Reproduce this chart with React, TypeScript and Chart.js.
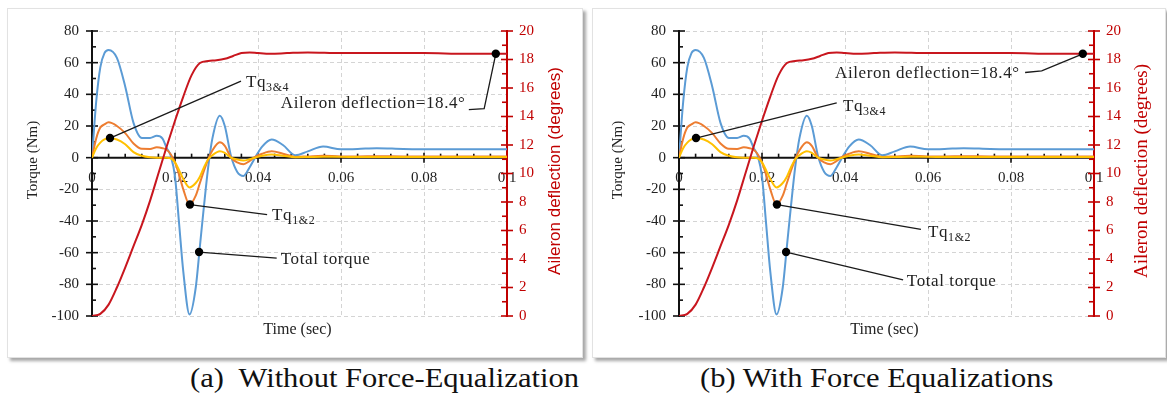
import React, { useEffect, useRef } from "react";
import { Chart, registerables } from "chart.js";

Chart.register(...registerables);

// ---------- data ----------
const TIME_S = [0, 0.001, 0.002, 0.003, 0.004, 0.006, 0.008, 0.010, 0.012, 0.014, 0.0156, 0.017, 0.018, 0.019, 0.020, 0.021, 0.022, 0.0235, 0.025, 0.026, 0.027, 0.028, 0.029, 0.0308, 0.032, 0.0335, 0.035, 0.0365, 0.038, 0.0393, 0.041, 0.0433, 0.046, 0.049, 0.052, 0.0557, 0.06, 0.064, 0.0686, 0.075, 0.085, 0.1];
const TOTAL_TORQUE = [0, 35, 57, 66, 68, 63, 45, 22, 12.5, 12.5, 13.8, 12, 6, 1, -12, -42, -72, -99, -82, -56, -30, -6, 12, 26.5, 20, 1, -9, -11.5, -6, 0, 7, 11.5, 8, 1.5, 4, 7, 5.3, 5.5, 6, 5.5, 5.3, 5.3];
const TQ_1_2 = [0, 12, 19, 21, 22.3, 20, 15.5, 9, 5.6, 5.5, 6.6, 6, 5, 2, -3, -11, -20, -29.6, -24, -16, -8, -1, 4.5, 9.7, 7.5, 0, -3, -4.1, -2, 0.5, 2.5, 4, 2.5, 0.5, 0.8, 1.2, 0.8, 0.8, 0.9, 0.8, 0.8, 0.8];
const TQ_3_4 = [0, 6, 9.5, 11.5, 12.3, 11.5, 8.5, 3.5, 1.2, 0.2, 0, 0, 0, -0.5, -3, -8, -13.5, -18.8, -16, -12, -6, -1, 1.5, 4, 3, 0, -1.2, -1.8, -1, 0, 1.2, 2, 1.2, 0.3, 0.4, 0.6, 0.5, 0.5, 0.5, 0.5, 0.5, 0.5];

const DEFL_TIME_S = [0, 0.002, 0.004, 0.006, 0.008, 0.010, 0.012, 0.014, 0.016, 0.018, 0.020, 0.022, 0.024, 0.026, 0.028, 0.030, 0.032, 0.034, 0.036, 0.038, 0.040, 0.043, 0.047, 0.052, 0.06, 0.07, 0.08, 0.09, 0.1];
const AILERON_DEFL = [0, 0.15, 0.8, 2.0, 3.4, 4.9, 6.4, 8.1, 10.0, 11.9, 13.7, 15.4, 16.9, 17.75, 17.9, 17.95, 18.05, 18.25, 18.45, 18.5, 18.45, 18.4, 18.45, 18.5, 18.45, 18.45, 18.45, 18.4, 18.4];

const TIME_TICKS = [0, 0.02, 0.04, 0.06, 0.08, 0.1];
const TORQUE_TICKS = [-100, -80, -60, -40, -20, 0, 20, 40, 60, 80];
const DEFL_TICKS = [0, 2, 4, 6, 8, 10, 12, 14, 16, 18, 20];

const CAPTIONS = ["(a)\u00a0 Without Force-Equalization", "(b) With Force Equalizations"];

// ---------- styles ----------
const SERIF = "'Liberation Serif', 'Times New Roman', serif";
const SANS = "'Liberation Sans', Arial, sans-serif";
const TEXT = "#222222";
const GRID = "#d4d4d4";
const RED_AXIS = "#c00000";
const RED_LINE = "#c8161e";
const BLUE = "#5b9bd5";
const ORANGE = "#ed7d31";
const YELLOW = "#ffc000";

type Pt = [number, number, "y" | "y2"];
type Ann = { path: Pt[]; at: [number, number]; main: string; sub?: string };

const ANN_A: Ann[] = [
  { path: [[0.00434, 12.4, "y"], [0.0359, 48.3, "y"]], at: [0.0371, 44.7], main: "Tq", sub: "3&4" },
  { path: [[0.0973, 18.4, "y2"], [0.0945, 31.0, "y"], [0.0908, 30.4, "y"]], at: [0.0455, 31.3], main: "Aileron deflection=18.4\u00b0" },
  { path: [[0.0236, -29.6, "y"], [0.0422, -36.0, "y"]], at: [0.0434, -39.1], main: "Tq", sub: "1&2" },
  { path: [[0.0258, -59.6, "y"], [0.0445, -63.5, "y"]], at: [0.0455, -67.4], main: "Total torque" },
];
const ANN_B: Ann[] = [
  { path: [[0.0973, 18.4, "y2"], [0.0874, 54.8, "y"], [0.0834, 53.8, "y"]], at: [0.0376, 50.3], main: "Aileron deflection=18.4\u00b0" },
  { path: [[0.0041, 12.4, "y"], [0.038, 34.6, "y"]], at: [0.0395, 29.2], main: "Tq", sub: "3&4" },
  { path: [[0.0236, -29.6, "y"], [0.0583, -45.3, "y"]], at: [0.0600, -50.3], main: "Tq", sub: "1&2" },
  { path: [[0.0258, -59.6, "y"], [0.054, -77.2, "y"]], at: [0.0549, -81.3], main: "Total torque" },
];

type PanelCfg = {
  left: number; top: number; width: number; height: number;
  plotLeft: number; plotRight: number;
  leftTitleX: number; rightTitleX: number; rightTitleFont: string;
  anns: Ann[];
};

const PANELS: PanelCfg[] = [
  { left: 8, top: 9, width: 574, height: 348, plotLeft: 84, plotRight: 499, leftTitleX: 25, rightTitleX: 547, rightTitleFont: `17px ${SANS}`, anns: ANN_A },
  { left: 593, top: 9, width: 572, height: 348, plotLeft: 86, plotRight: 501, leftTitleX: 25, rightTitleX: 549, rightTitleFont: `19px ${SERIF}`, anns: ANN_B },
];

function makePlugin(cfg: PanelCfg) {
  const seg = (ctx: CanvasRenderingContext2D, x1: number, y1: number, x2: number, y2: number) => {
    ctx.beginPath();
    ctx.moveTo(x1, y1);
    ctx.lineTo(x2, y2);
    ctx.stroke();
  };
  return {
    id: "customDecor",
    beforeDatasetsDraw(chart: any) {
      const { ctx, chartArea: a, scales } = chart;
      const x = scales.x, y = scales.y, y2 = scales.y2;
      const y0 = y.getPixelForValue(0);
      ctx.save();
      ctx.lineCap = "butt";
      // left torque axis
      ctx.strokeStyle = "#111";
      ctx.lineWidth = 2;
      const tTop = y.getPixelForValue(TORQUE_TICKS[TORQUE_TICKS.length - 1]);
      const tBot = y.getPixelForValue(TORQUE_TICKS[0]);
      seg(ctx, a.left, tTop - 1, a.left, tBot + 1);
      ctx.lineWidth = 1.6;
      for (let i = 0; i < TORQUE_TICKS.length; i++) {
        const py = y.getPixelForValue(TORQUE_TICKS[i]);
        seg(ctx, a.left - 6, py, a.left + 6, py);
        if (i < TORQUE_TICKS.length - 1) {
          const pm = y.getPixelForValue((TORQUE_TICKS[i] + TORQUE_TICKS[i + 1]) / 2);
          seg(ctx, a.left, pm, a.left + 4, pm);
        }
      }
      // time axis at torque 0
      ctx.lineWidth = 2;
      seg(ctx, a.left, y0, a.right, y0);
      ctx.lineWidth = 1.6;
      for (let i = 0; i < TIME_TICKS.length; i++) {
        const px = x.getPixelForValue(TIME_TICKS[i]);
        seg(ctx, px, y0 - 5, px, y0 + 5);
        if (i < TIME_TICKS.length - 1) {
          for (let k = 1; k < 5; k++) {
            const v = TIME_TICKS[i] + ((TIME_TICKS[i + 1] - TIME_TICKS[i]) * k) / 5;
            const pm = x.getPixelForValue(v);
            seg(ctx, pm, y0 - 4, pm, y0);
          }
        }
      }
      // right deflection axis
      ctx.strokeStyle = RED_AXIS;
      ctx.lineWidth = 2;
      seg(ctx, a.right, y2.getPixelForValue(20) - 1, a.right, y2.getPixelForValue(0) + 1);
      ctx.lineWidth = 1.6;
      for (let i = 0; i < DEFL_TICKS.length; i++) {
        const py = y2.getPixelForValue(DEFL_TICKS[i]);
        seg(ctx, a.right - 6, py, a.right + 6, py);
        if (i < DEFL_TICKS.length - 1) {
          const pm = y2.getPixelForValue((DEFL_TICKS[i] + DEFL_TICKS[i + 1]) / 2);
          seg(ctx, a.right - 5, pm, a.right, pm);
        }
      }
      ctx.restore();
    },
    afterDatasetsDraw(chart: any) {
      const { ctx, scales } = chart;
      const x = scales.x;
      ctx.save();
      for (const ann of cfg.anns) {
        const pts = ann.path.map((p) => [x.getPixelForValue(p[0]), scales[p[2]].getPixelForValue(p[1])]);
        ctx.strokeStyle = "#1a1a1a";
        ctx.lineWidth = 1.3;
        ctx.beginPath();
        ctx.moveTo(pts[0][0], pts[0][1]);
        for (let i = 1; i < pts.length; i++) ctx.lineTo(pts[i][0], pts[i][1]);
        ctx.stroke();
        ctx.fillStyle = "#000";
        ctx.beginPath();
        ctx.arc(pts[0][0], pts[0][1], 4.2, 0, Math.PI * 2);
        ctx.fill();
        const tx = x.getPixelForValue(ann.at[0]);
        const ty = scales.y.getPixelForValue(ann.at[1]);
        ctx.fillStyle = TEXT;
        ctx.textAlign = "left";
        ctx.textBaseline = "alphabetic";
        ctx.font = `17px ${SERIF}`;
        (ctx as any).letterSpacing = "0.6px";
        ctx.fillText(ann.main, tx, ty);
        if (ann.sub) {
          const w = ctx.measureText(ann.main).width;
          ctx.font = `12px ${SERIF}`;
          ctx.fillText(ann.sub, tx + w, ty + 4);
        }
        (ctx as any).letterSpacing = "0px";
      }
      ctx.restore();
    },
    afterDraw(chart: any) {
      const { ctx, chartArea: a } = chart;
      ctx.save();
      // x title
      ctx.fillStyle = TEXT;
      ctx.font = `16px ${SERIF}`;
      ctx.textAlign = "center";
      ctx.textBaseline = "alphabetic";
      ctx.fillText("Time (sec)", (a.left + a.right) / 2 - 2, a.bottom + 18);
      // left title
      ctx.save();
      ctx.translate(cfg.leftTitleX, 151);
      ctx.rotate(-Math.PI / 2);
      ctx.textBaseline = "middle";
      ctx.font = `15px ${SERIF}`;
      ctx.fillText("Torque (Nm)", 0, 0);
      ctx.restore();
      // right title
      ctx.save();
      ctx.translate(cfg.rightTitleX, 162);
      ctx.rotate(-Math.PI / 2);
      ctx.textBaseline = "middle";
      ctx.textAlign = "center";
      ctx.fillStyle = RED_AXIS;
      ctx.font = cfg.rightTitleFont;
      ctx.fillText("Aileron deflection (degrees)", 0, 0);
      ctx.restore();
      ctx.restore();
    },
  };
}

function Panel({ cfg }: { cfg: PanelCfg }) {
  const ref = useRef<HTMLCanvasElement>(null);
  useEffect(() => {
    const tickFont = { family: SERIF, size: 15 };
    const chart = new Chart(ref.current as HTMLCanvasElement, {
      type: "line",
      data: {
        datasets: [
          {
            label: "Aileron deflection",
            data: DEFL_TIME_S.map((t, i) => ({ x: t, y: AILERON_DEFL[i] })),
            yAxisID: "y2",
            borderColor: RED_LINE,
            borderWidth: 2,
            pointRadius: 0,
            cubicInterpolationMode: "monotone",
          },
          {
            label: "Tq3&4",
            data: TIME_S.map((t, i) => ({ x: t, y: TQ_3_4[i] })),
            yAxisID: "y",
            borderColor: YELLOW,
            borderWidth: 2,
            pointRadius: 0,
            cubicInterpolationMode: "monotone",
          },
          {
            label: "Tq1&2",
            data: TIME_S.map((t, i) => ({ x: t, y: TQ_1_2[i] })),
            yAxisID: "y",
            borderColor: ORANGE,
            borderWidth: 2,
            pointRadius: 0,
            cubicInterpolationMode: "monotone",
          },
          {
            label: "Total torque",
            data: TIME_S.map((t, i) => ({ x: t, y: TOTAL_TORQUE[i] })),
            yAxisID: "y",
            borderColor: BLUE,
            borderWidth: 2,
            pointRadius: 0,
            cubicInterpolationMode: "monotone",
          },
        ],
      },
      options: {
        responsive: false,
        animation: false,
        events: [],
        layout: { padding: { top: 17, bottom: 41, left: 0, right: 0 } },
        plugins: { legend: { display: false }, tooltip: { enabled: false } },
        scales: {
          x: {
            type: "linear",
            min: 0,
            max: 0.1,
            position: { y: 0 } as any,
            afterBuildTicks: (s: any) => { s.ticks = TIME_TICKS.map((v) => ({ value: v })); },
            afterFit: (s: any) => { s.height = 0; },
            border: { display: false, dash: [4, 3] },
            grid: { color: GRID, lineWidth: 1, drawTicks: false },
            ticks: {
              autoSkip: false,
              maxRotation: 0,
              padding: 11,
              color: TEXT,
              font: tickFont,
              callback: (v: any) => String(+Number(v).toFixed(3)),
            },
          },
          y: {
            type: "linear",
            position: "left",
            min: -100,
            max: 80,
            afterBuildTicks: (s: any) => { s.ticks = TORQUE_TICKS.map((v) => ({ value: v })); },
            afterFit: (s: any) => { s.width = cfg.plotLeft; },
            border: { display: false, dash: [4, 3] },
            grid: { color: GRID, lineWidth: 1, drawTicks: false },
            ticks: { padding: 13, color: TEXT, font: tickFont },
          },
          y2: {
            type: "linear",
            position: "right",
            min: 0,
            max: 20,
            afterBuildTicks: (s: any) => { s.ticks = DEFL_TICKS.map((v) => ({ value: v })); },
            afterFit: (s: any) => { s.width = cfg.width - cfg.plotRight; },
            border: { display: false },
            grid: { display: false, drawTicks: false },
            ticks: { padding: 12, color: RED_AXIS, font: tickFont },
          },
        },
      } as any,
      plugins: [makePlugin(cfg) as any],
    });
    return () => chart.destroy();
  }, []);
  return (
    <>
      <div
        style={{
          position: "absolute",
          left: cfg.left - 1,
          top: cfg.top - 1,
          width: cfg.width,
          height: cfg.height,
          border: "1px solid #e2e2e2",
          boxShadow: "3px 3px 3px rgba(0,0,0,0.35)",
          background: "#fff",
        }}
      />
      <canvas
        ref={ref}
        width={cfg.width}
        height={cfg.height}
        style={{ position: "absolute", left: cfg.left, top: cfg.top, width: cfg.width, height: cfg.height }}
      />
    </>
  );
}

export default function App() {
  const capStyle: React.CSSProperties = {
    position: "absolute",
    top: 364,
    fontFamily: SERIF,
    fontSize: 28,
    lineHeight: "28px",
    color: "#111",
    whiteSpace: "nowrap",
    transform: "scaleX(1.09)",
    transformOrigin: "left top",
  };
  return (
    <div style={{ position: "absolute", left: 0, top: 0, width: 1167, height: 401, background: "#fff" }}>
      <Panel cfg={PANELS[0]} />
      <Panel cfg={PANELS[1]} />
      <div style={{ ...capStyle, left: 190 }}>{CAPTIONS[0]}</div>
      <div style={{ ...capStyle, left: 700 }}>{CAPTIONS[1]}</div>
    </div>
  );
}
